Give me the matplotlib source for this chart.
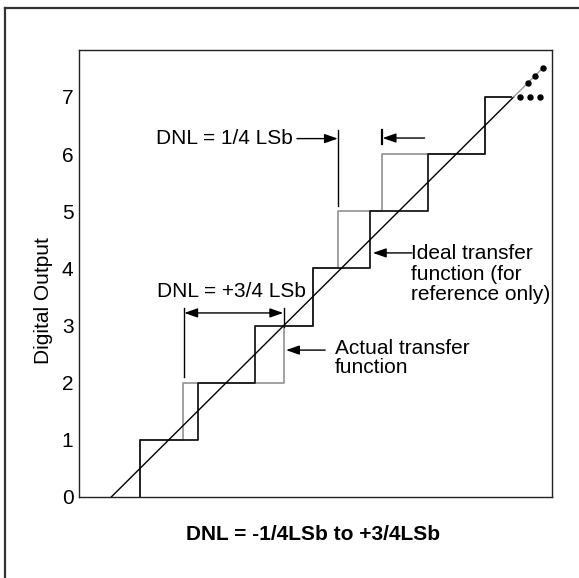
import numpy as np
import matplotlib
matplotlib.use('Agg')
import matplotlib.pyplot as plt
from matplotlib.lines import Line2D

plt.rcParams['font.family'] = ['Liberation Sans', 'DejaVu Sans']

# output codes and where each code begins on the input axis (in LSb)
codes = [0, 1, 2, 3, 4, 5, 6, 7]
ideal_edges = [0.5, 1.5, 2.5, 3.5, 4.5, 5.5, 6.5]
actual_edges = [0.5, 1.25, 3.0, 3.5, 3.95, 4.7, 6.5]
stair_end = 6.95

# straight reference line
line_x = [0, 7]
line_tail_x = [7, 7.5]

# "and so on" dots
dots_diag = [7.25, 7.37, 7.5]
dots_flat_x = [7.1, 7.28, 7.45]

yticks = [0, 1, 2, 3, 4, 5, 6, 7]

W, H = 579, 578
fig = plt.figure(figsize=(W / 100, H / 100), dpi=100)
ax = fig.add_axes([79 / W, 1 - 497 / H, (552 - 79) / W, (497 - 50) / H])
ax.set_xlim(-0.561, 7.665)
ax.set_ylim(0, 7.82)

def stair(edges):
    xs = np.r_[edges[0], edges, stair_end]
    ys = np.r_[codes, codes[-1]]
    return xs, ys

grey = '#9a9a9a'
black = '#1a1a1a'

xs, ys = stair(actual_edges)
ax.step(xs, ys, where='post', color=grey, lw=1.3, zorder=2)
xs, ys = stair(ideal_edges)
ax.step(xs, ys, where='post', color=black, lw=1.3, zorder=3)

ax.plot(line_x, line_x, color='black', lw=1.0, zorder=4)
ax.plot(line_tail_x, line_tail_x, color=grey, lw=1.0, zorder=4)
ax.plot(dots_diag, dots_diag, 'o', color='black', ms=3.6, zorder=5)
ax.plot(dots_flat_x, [7] * len(dots_flat_x), 'o', color='black', ms=3.6, zorder=5)

fs = 15

ax.set_xticks([])
ax.set_yticks(yticks)
ax.tick_params(axis='y', length=0, pad=4.0, labelsize=fs)
for s in ax.spines.values():
    s.set_linewidth(1.0)
    s.set_color('#222222')
ax.set_ylabel('Digital Output', fontsize=fs)
ax.yaxis.set_label_coords(-0.056, 0.44)

arrow = dict(arrowstyle='-|>,head_length=0.8,head_width=0.28', color='black',
             lw=1.0, shrinkA=0, shrinkB=0)

# DNL = 1/4 LSb
ax.text(0.78, 6.27, 'DNL = 1/4 LSb', fontsize=fs, va='center', ha='left')
ax.annotate('', xy=(3.94, 6.27), xytext=(3.23, 6.27), arrowprops=arrow)
ax.plot([3.94, 3.94], [5.09, 6.42], color='black', lw=1.0)
ax.plot([4.7, 4.7], [6.18, 6.42], color='black', lw=1.6)
ax.annotate('', xy=(4.72, 6.28), xytext=(5.45, 6.28), arrowprops=arrow)

# DNL = +3/4 LSb
ax.text(0.80, 3.59, 'DNL = +3/4 LSb', fontsize=fs, va='center', ha='left')
ax.annotate('', xy=(1.27, 3.22), xytext=(2.99, 3.22),
            arrowprops=dict(arrowstyle='<|-|>,head_length=0.8,head_width=0.28',
                            color='black', lw=1.0, shrinkA=0, shrinkB=0))
ax.plot([1.27, 1.27], [2.10, 3.31], color='black', lw=1.0)
ax.plot([3.0, 3.0], [2.98, 3.31], color='black', lw=1.0)

# labels for the two staircases
ax.annotate('', xy=(4.55, 4.27), xytext=(5.23, 4.27), arrowprops=arrow)
ax.text(5.21, 4.42, 'Ideal transfer\nfunction (for\nreference only)', fontsize=fs,
        va='top', ha='left', linespacing=1.08)
ax.annotate('', xy=(3.04, 2.57), xytext=(3.72, 2.57), arrowprops=arrow)
ax.text(3.89, 2.77, 'Actual transfer\nfunction', fontsize=fs, va='top', ha='left',
        linespacing=1.05)

fig.text(313 / W, 1 - 535 / H, 'DNL = -1/4LSb to +3/4LSb', fontsize=fs,
         fontweight='bold', ha='center', va='center')

# outer frame (only left and top edges fall inside the picture)
fig.add_artist(Line2D([5 / W, 5 / W], [0, 1 - 8 / H], color='#333333', lw=1.6))
fig.add_artist(Line2D([5 / W, 1], [1 - 8 / H, 1 - 8 / H], color='#333333', lw=1.6))

fig.savefig('out.png', dpi=100)
